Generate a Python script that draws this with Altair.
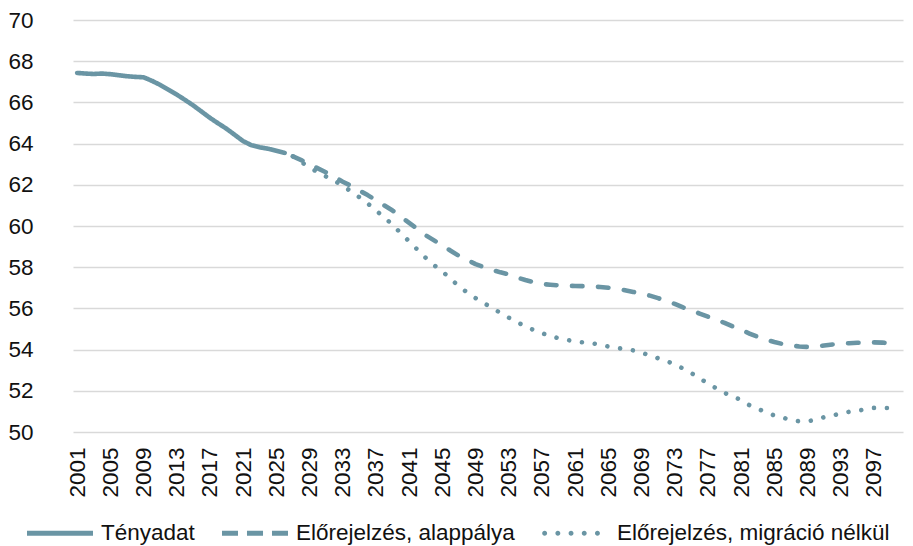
import altair as alt
import pandas as pd

COLOR = "#6a95a4"
FONT = "Liberation Sans"

series_names = ["Tényadat", "Előrejelzés, alappálya", "Előrejelzés, migráció nélkül"]

actual_start = 2001
actual = [
    67.43, 67.40, 67.38, 67.40, 67.37, 67.32, 67.27, 67.24, 67.22, 67.05,  # 2001-2010
    66.85, 66.62, 66.38, 66.12, 65.85, 65.55, 65.25, 64.98, 64.72, 64.42,  # 2011-2020
    64.12, 63.92, 63.82, 63.75, 63.65, 63.55,                              # 2021-2026
]

forecast_start = 2027
baseline = [
    63.38, 63.20, 63.00, 62.80, 62.60, 62.38, 62.15, 61.95, 61.72, 61.50,  # 2027-2036
    61.25, 61.00, 60.75, 60.45, 60.15, 59.85, 59.55, 59.30, 59.05, 58.80,  # 2037-2046
    58.55, 58.35, 58.15, 58.00, 57.87, 57.75, 57.65, 57.50, 57.38, 57.27,  # 2047-2056
    57.18, 57.15, 57.12, 57.10, 57.09, 57.08, 57.06, 57.04, 57.00, 56.95,  # 2057-2066
    56.88, 56.80, 56.72, 56.62, 56.50, 56.35, 56.22, 56.05, 55.90, 55.75,  # 2067-2076
    55.60, 55.45, 55.30, 55.12, 54.95, 54.78, 54.62, 54.48, 54.37, 54.27,  # 2077-2086
    54.20, 54.15, 54.13, 54.15, 54.20, 54.25, 54.28, 54.31, 54.33, 54.34,  # 2087-2096
    54.35, 54.34, 54.30, 54.22,                                            # 2097-2100
]
no_migration = [
    63.38, 63.10, 62.85, 62.60, 62.40, 62.20, 61.95, 61.68, 61.40, 61.10,  # 2027-2036
    60.75, 60.43, 60.05, 59.65, 59.25, 58.85, 58.45, 58.10, 57.80, 57.42,  # 2037-2046
    57.08, 56.77, 56.50, 56.26, 56.02, 55.78, 55.55, 55.33, 55.13, 54.95,  # 2047-2056
    54.80, 54.66, 54.55, 54.47, 54.40, 54.35, 54.32, 54.22, 54.15, 54.08,  # 2057-2066
    54.03, 53.96, 53.85, 53.72, 53.58, 53.45, 53.28, 53.08, 52.86, 52.60,  # 2067-2076
    52.36, 52.12, 51.90, 51.72, 51.55, 51.30, 51.13, 50.95, 50.80, 50.70,  # 2077-2086
    50.58, 50.52, 50.52, 50.60, 50.72, 50.80, 50.90, 50.98, 51.03, 51.10,  # 2087-2096
    51.17, 51.17, 51.16, 51.12,                                            # 2097-2100
]

all_years = list(range(2001, 2101))
tick_years = list(range(2001, 2101, 4))
y_ticks = list(range(50, 71, 2))

rows = []
for i, v in enumerate(actual):
    rows.append({"year": actual_start + i, "value": v, "series": series_names[0]})
for i, v in enumerate(baseline):
    rows.append({"year": forecast_start + i, "value": v, "series": series_names[1]})
for i, v in enumerate(no_migration):
    rows.append({"year": forecast_start + i, "value": v, "series": series_names[2]})
df = pd.DataFrame(rows)

line_dashes = [[1, 0], [10.5, 15.5], [0.01, 12.9]]
line_widths = [4.6, 4.6, 4.6]

t = 0.075
r = 0.075
def dot(c):
    return f"M{c - r:.3f},0A{r},{r} 0 1,0 {c + r:.3f},0A{r},{r} 0 1,0 {c - r:.3f},0Z"

legend_paths = [
    f"M-1,-{t}H1V{t}H-1Z",
    f"M-1,-{t}H-0.515V{t}H-1Z M-0.243,-{t}H0.243V{t}H-0.243Z M0.515,-{t}H1V{t}H0.515Z",
    " ".join(dot(c) for c in [-0.95, -0.55, -0.15, 0.25, 0.65]),
]

FS = 22.5

x_enc = alt.X(
    "year:O",
    scale=alt.Scale(type="point", padding=0.5, domain=all_years),
    axis=alt.Axis(
        values=tick_years, title=None, labelAngle=270, labelFont=FONT, labelFontSize=FS,
        labelColor="#111111", labelPadding=15, domain=False, ticks=False, grid=False,
        labelOverlap=False,
    ),
)
y_enc = alt.Y(
    "value:Q",
    scale=alt.Scale(domain=[50, 70], nice=False, zero=False),
    axis=alt.Axis(
        values=y_ticks, title=None, labelFont=FONT, labelFontSize=FS, labelColor="#111111",
        labelPadding=40, domain=False, ticks=False, grid=True, gridColor="#d9d9d9",
        gridWidth=1.3,
    ),
)

base = alt.Chart(df)

layers = []
for name, dash, w in zip(series_names, line_dashes, line_widths):
    layers.append(
        base.transform_filter(alt.datum.series == name)
        .mark_line(strokeCap="round", strokeJoin="round", color=COLOR, strokeDash=dash, strokeWidth=w)
        .encode(x=x_enc, y=y_enc)
    )

legend_pts = base.mark_point(
    filled=True, color=COLOR, size=4356, opacity=0
).encode(
    x=x_enc,
    y=y_enc,
    shape=alt.Shape(
        "series:N",
        scale=alt.Scale(domain=series_names, range=legend_paths),
        legend=alt.Legend(
            title=None, orient="none", legendX=-46, legendY=480, direction="horizontal",
            symbolSize=4356, symbolStrokeWidth=0, symbolFillColor=COLOR, symbolOpacity=1,
            labelFont=FONT, labelFontSize=FS, labelColor="#111111", labelOffset=8,
            columnPadding=27, padding=0, labelLimit=500,
        ),
    ),
)
layers.append(legend_pts)

chart = alt.layer(*layers).properties(
    width=830,
    height=412,
    autosize=alt.AutoSizeParams(type="none"),
    padding={"left": 65, "top": 12, "right": 2, "bottom": 114},
).configure_view(stroke=None)

chart.save("out.html", embed_options={"renderer": "svg", "actions": False})
